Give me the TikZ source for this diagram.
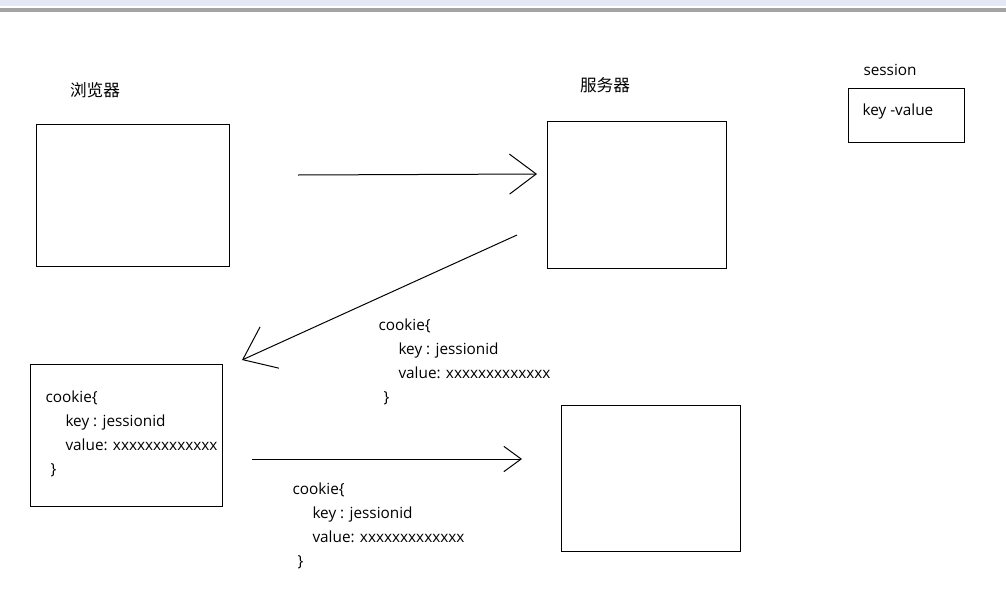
\documentclass[tikz,border=0pt]{standalone}
\usepackage{fontspec}
\setmainfont{Open Sans}
\newfontfamily\cjk{Noto Sans CJK SC}
\usetikzlibrary{arrows.meta}
\definecolor{barlight}{HTML}{E4E7F4}
\definecolor{bargray}{HTML}{A3A3A3}
\newcommand{\cookiebody}{cookie\{\\\hspace*{15pt}key : jessionid\\\hspace*{15pt}value: xxxxxxxxxxxxx\\\hspace*{3.75pt}\}}
\begin{document}
\begin{tikzpicture}[x=0.75pt,y=-0.75pt,
                    line width=0.75pt,
                    box/.style 2 args={draw,inner sep=0pt,outer sep=0pt,minimum width=#1*0.75pt,minimum height=#2*0.75pt},
                    label text/.style={inner sep=0pt,font=\fontsize{11.5}{18}\selectfont},
                    cjk text/.style={inner sep=0pt,font=\cjk\fontsize{12.5}{15}\selectfont},
                    cookie text/.style={inner sep=0pt,align=left,anchor=north west,font=\fontsize{11.5}{18}\selectfont}
                    ]
  \useasboundingbox (0,0) rectangle (1006,600);
  % window strip at the top
  \fill[barlight] (0,0) rectangle (1006,6);
  \fill[bargray] (0,7.5) rectangle (1006,12);
  % boxes
  \node[box={193}{142}] (browserA) at (132.5,195) {};
  \node[box={179}{147}] (serverA) at (636.5,194.5) {};
  \node[box={192}{142}] (browserB) at (126,435) {};
  \node[box={179}{146}] (serverB) at (650.5,478) {};
  \node[box={116}{54}] (session) at (906,115) {};
  % labels
  \node[cjk text] (browserlabel) at (95,90) {浏览器};
  \node[cjk text] (serverlabel) at (605,85) {服务器};
  \node[label text,anchor=west] (sessionlabel) at (863,70) {session};
  \node[label text,anchor=west] (keyvalue) at (862,112) {key -value};
  \node[cookie text] (cookieA) at (378,318) {\cookiebody};
  \node[cookie text] (cookieB) at (45,390) {\cookiebody};
  \node[cookie text] (cookieC) at (292,482) {\cookiebody};
  % arrow ends
  \coordinate (reqA) at (298,175);
  \coordinate (reqAend) at (537,174);
  \coordinate (resp) at (517,235);
  \coordinate (respend) at (242,360);
  \coordinate (reqB) at (252,459);
  \coordinate (reqBend) at (522,459);
  \draw[-{Straight Barb[length=20pt,width=30pt]}] (reqA) -- (reqAend);
  \draw[-{Straight Barb[length=22pt,width=34pt]}] (resp) -- (respend);
  \draw[-{Straight Barb[length=13pt,width=19pt]}] (reqB) -- (reqBend);
\end{tikzpicture}
\end{document}
